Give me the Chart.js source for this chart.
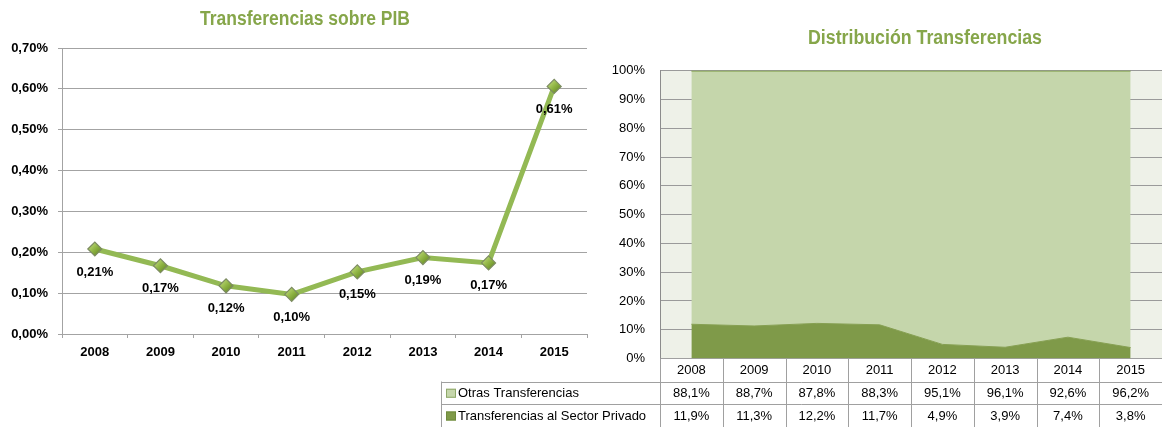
<!DOCTYPE html>
<html>
<head>
<meta charset="utf-8">
<script src="https://cdn.jsdelivr.net/npm/chart.js@4.4.1/dist/chart.umd.min.js"></script>
<style>
  html, body { margin: 0; padding: 0; background: #ffffff; }
  #wrap { position: relative; width: 1162px; height: 427px; overflow: hidden; }
  #pib { position: absolute; left: 0; top: 0; }
  #dist { position: absolute; left: 430px; top: 0; }
</style>
</head>
<body>
<div id="wrap">
  <canvas id="pib" width="600" height="427"></canvas>
  <canvas id="dist" width="732" height="427"></canvas>
</div>
<script>
// Years shared by both charts
const years = ['2008', '2009', '2010', '2011', '2012', '2013', '2014', '2015'];

// Transfers as a share of GDP (%)
const pibShare = [0.208, 0.167, 0.118, 0.097, 0.152, 0.187, 0.174, 0.606];

// Distribution of transfers (% of total)
const otrasTransferencias = [88.1, 88.7, 87.8, 88.3, 95.1, 96.1, 92.6, 96.2];
const sectorPrivado = [11.9, 11.3, 12.2, 11.7, 4.9, 3.9, 7.4, 3.8];
const seriesNames = ['Otras Transferencias', 'Transferencias al Sector Privado'];

// Titles
const pibTitle = 'Transferencias sobre PIB';
const distTitle = 'Distribución Transferencias';

const BASE_FONT = '"Liberation Sans", Arial, sans-serif';
const TITLE_COLOR = '#86a64a';
const GRID = '#a3a3a3';
const LIGHT_GREEN = '#c5d6ab';
const DARK_GREEN = '#7f9a49';

const pctComma = (v, d) => v.toFixed(d).replace('.', ',') + '%';

Chart.defaults.animation = false;
Chart.defaults.font.family = BASE_FONT;
Chart.defaults.color = '#000';

// Condensed chart title: text squeezed horizontally to a fixed width
const condensedTitle = {
  id: 'condensedTitle',
  afterDraw(chart, args, opts) {
    const ctx = chart.ctx;
    ctx.save();
    ctx.font = 'bold 20px ' + BASE_FONT;
    ctx.fillStyle = TITLE_COLOR;
    ctx.textAlign = 'center';
    ctx.textBaseline = 'middle';
    const w = ctx.measureText(opts.text).width;
    const sx = opts.width / w;
    ctx.translate(opts.x, opts.y);
    ctx.scale(sx, 1);
    ctx.fillText(opts.text, 0, 0);
    ctx.restore();
  }
};

// Value labels under each point of the line chart
const pointLabels = {
  id: 'pointLabels',
  afterDatasetsDraw(chart) {
    const ctx = chart.ctx;
    const meta = chart.getDatasetMeta(0);
    ctx.save();
    ctx.font = 'bold 13px ' + BASE_FONT;
    ctx.fillStyle = '#000';
    ctx.textAlign = 'center';
    ctx.textBaseline = 'middle';
    meta.data.forEach((pt, i) => {
      ctx.fillText(pctComma(chart.data.datasets[0].data[i], 2), pt.x, pt.y + 23);
    });
    ctx.restore();
  }
};

new Chart(document.getElementById('pib'), {
  type: 'line',
  data: {
    labels: years,
    datasets: [{
      data: pibShare,
      borderColor: '#93b954',
      borderWidth: 5,
      fill: false,
      tension: 0,
      pointStyle: 'rectRot',
      pointRadius: 7,
      pointBorderWidth: 1.2,
      pointBorderColor: '#7d8c62',
      pointBackgroundColor: (c) => {
        const chart = c.chart;
        if (c.type !== 'data' || !chart.chartArea || !chart.scales.y) return '#8fb443';
        const x = chart.scales.x.getPixelForValue(c.dataIndex);
        const y = chart.scales.y.getPixelForValue(c.raw);
        const g = chart.ctx.createLinearGradient(x - 6, y - 6, x + 6, y + 6);
        g.addColorStop(0, '#c4de80');
        g.addColorStop(0.5, '#8fb443');
        g.addColorStop(1, '#5e8320');
        return g;
      }
    }]
  },
  options: {
    responsive: false,
    layout: { padding: { left: 0, right: 13, top: 48, bottom: 0 } },
    plugins: {
      legend: { display: false },
      tooltip: { enabled: false },
      title: { display: false },
      condensedTitle: { text: pibTitle, x: 305, y: 19, width: 210 }
    },
    scales: {
      x: {
        offset: true,
        grid: { drawOnChartArea: false, offset: true, tickLength: 4, color: GRID },
        border: { color: GRID },
        ticks: { font: { size: 13, weight: 'bold' }, padding: 7, color: '#000' },
        afterFit(s) { s.height = 93; }
      },
      y: {
        min: 0, max: 0.7,
        grid: { color: GRID, tickLength: 4 },
        border: { color: GRID },
        ticks: {
          stepSize: 0.1,
          padding: 10,
          font: { size: 13, weight: 'bold' },
          color: '#000',
          callback: (v) => pctComma(v, 2)
        },
        afterFit(s) { s.width = 62; }
      }
    }
  },
  plugins: [pointLabels, condensedTitle]
});

// Light plot background for the area chart
const plotBackground = {
  id: 'plotBackground',
  beforeDraw(chart) {
    const { ctx, chartArea: a } = chart;
    ctx.save();
    ctx.fillStyle = '#eef1e8';
    ctx.fillRect(a.left, a.top, a.right - a.left, a.bottom - a.top);
    ctx.restore();
  }
};

// Data table with legend keys under the area chart
const dataTable = {
  id: 'dataTable',
  afterDraw(chart) {
    const { ctx, chartArea: a, scales } = chart;
    const xs = scales.x;
    const half = (xs.getPixelForValue(1) - xs.getPixelForValue(0)) / 2;
    const rows = [a.bottom, a.bottom + 23, a.bottom + 45.5, chart.height];
    const legendLeft = 11.5;
    const right = chart.width;
    ctx.save();
    ctx.strokeStyle = '#a0a0a0';
    ctx.lineWidth = 1;
    ctx.beginPath();
    // column separators
    for (let i = 0; i <= years.length; i++) {
      const bx = Math.round(xs.getPixelForValue(0) - half + i * 2 * half) + 0.5;
      ctx.moveTo(bx, rows[0]);
      ctx.lineTo(bx, rows[3]);
    }
    // row separators
    [rows[1], rows[2]].forEach((ry) => {
      ctx.moveTo(legendLeft, Math.round(ry) + 0.5);
      ctx.lineTo(right, Math.round(ry) + 0.5);
    });
    ctx.moveTo(legendLeft, rows[1]);
    ctx.lineTo(legendLeft, rows[3]);
    ctx.stroke();

    ctx.font = '13px ' + BASE_FONT;
    ctx.fillStyle = '#000';
    ctx.textBaseline = 'middle';
    ctx.textAlign = 'center';
    const mid = (r) => (rows[r] + rows[r + 1]) / 2 + 0.5;
    years.forEach((y, i) => {
      const cx = xs.getPixelForValue(i);
      ctx.fillText(y, cx, mid(0));
      ctx.fillText(pctComma(otrasTransferencias[i], 1), cx, mid(1));
      ctx.fillText(pctComma(sectorPrivado[i], 1), cx, mid(2));
    });

    // legend keys
    const keys = [[LIGHT_GREEN, '#8ea86a'], [DARK_GREEN, '#6f8a3d']];
    ctx.textAlign = 'left';
    keys.forEach((k, r) => {
      const cy = mid(r + 1);
      ctx.fillStyle = k[0];
      ctx.fillRect(16, cy - 4.5, 10, 9);
      ctx.strokeStyle = k[1];
      ctx.strokeRect(16.5, cy - 4, 9, 8);
      ctx.fillStyle = '#000';
      ctx.fillText(seriesNames[r], 28, cy);
    });
    ctx.restore();
  }
};

new Chart(document.getElementById('dist'), {
  type: 'line',
  data: {
    labels: years,
    datasets: [
      {
        label: seriesNames[1],
        data: sectorPrivado,
        fill: 'origin',
        backgroundColor: DARK_GREEN,
        borderColor: '#86a052',
        borderWidth: 1,
        pointRadius: 0,
        tension: 0
      },
      {
        label: seriesNames[0],
        data: otrasTransferencias,
        fill: '-1',
        backgroundColor: LIGHT_GREEN,
        borderColor: '#7a9840',
        borderWidth: 1.5,
        pointRadius: 0,
        tension: 0
      }
    ]
  },
  options: {
    responsive: false,
    layout: { padding: { left: 0, right: 0, top: 70.7, bottom: 0 } },
    plugins: {
      legend: { display: false },
      tooltip: { enabled: false },
      title: { display: false },
      condensedTitle: { text: distTitle, x: 495, y: 38, width: 234 }
    },
    scales: {
      x: {
        offset: true,
        grid: { drawOnChartArea: false, drawTicks: false, offset: true },
        border: { color: '#a0a0a0' },
        ticks: { display: false },
        afterFit(s) { s.height = 68.5; }
      },
      y: {
        stacked: true,
        min: 0, max: 100,
        grid: { color: '#9a9a9a', drawTicks: false },
        border: { color: '#8c8c8c' },
        ticks: {
          stepSize: 10,
          padding: 15,
          font: { size: 13 },
          color: '#000',
          callback: (v) => v + '%'
        },
        afterFit(s) { s.width = 230; }
      }
    }
  },
  plugins: [plotBackground, dataTable, condensedTitle]
});
</script>
</body>
</html>
